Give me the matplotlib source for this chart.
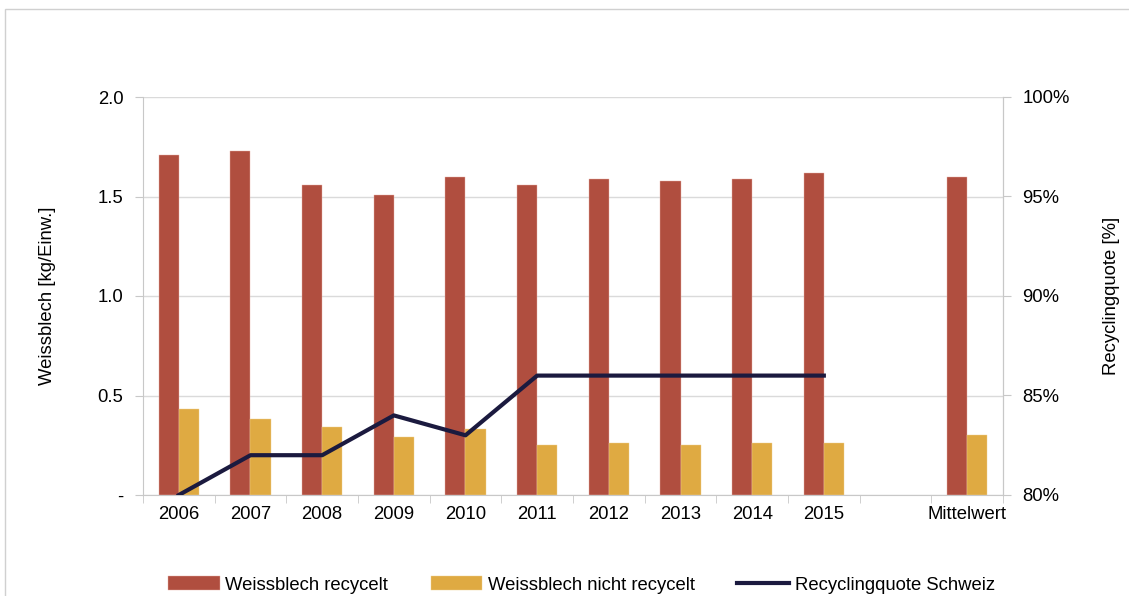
import matplotlib.pyplot as plt
import numpy as np
from matplotlib.patches import Rectangle
from matplotlib.ticker import FuncFormatter

plt.rcParams['font.family'] = ['Liberation Sans', 'DejaVu Sans']

kategorien = ['2006', '2007', '2008', '2009', '2010', '2011', '2012', '2013', '2014', '2015', '', 'Mittelwert']
recycelt = [1.71, 1.73, 1.56, 1.51, 1.60, 1.56, 1.59, 1.58, 1.59, 1.62, np.nan, 1.60]
nicht_recycelt = [0.43, 0.38, 0.34, 0.29, 0.33, 0.25, 0.26, 0.25, 0.26, 0.26, np.nan, 0.30]
quote = [80, 82, 82, 84, 83, 86, 86, 86, 86, 86]

rot = '#B04E3F'
gold = '#DFAA42'
navy = '#1B1A3F'
grau = '#C8C8C8'
fs = 13.3

fig = plt.figure(figsize=(11.29, 5.96), dpi=100)
ax = fig.add_axes([143/1129, 1-495/596, 860/1129, 398/596])

x = np.arange(len(kategorien))
w = 0.28
ax.bar(x - w/2, recycelt, w, color=rot, edgecolor='#E8B0A8', linewidth=0.3, label='Weissblech recycelt', zorder=2)
ax.bar(x + w/2, nicht_recycelt, w, color=gold, edgecolor='#F0D090', linewidth=0.3, label='Weissblech nicht recycelt', zorder=2)

ax.set_xlim(-0.5, len(kategorien) - 0.5)
ax.set_ylim(0, 2.0)
ax.set_yticks([0, 0.5, 1.0, 1.5, 2.0])
ax.yaxis.set_major_formatter(FuncFormatter(lambda v, p: '-' if v == 0 else f'{v:.1f}'))
ax.set_xticks(x)
ax.set_xticklabels(kategorien)
ax.set_xticks(np.arange(-0.5, len(kategorien)), minor=True)
ax.tick_params(axis='x', which='major', length=0, pad=8, labelsize=fs)
ax.tick_params(axis='x', which='minor', length=6, color=grau, direction='out')
ax.tick_params(axis='y', length=6, color=grau, labelsize=fs, pad=8)
ax.grid(axis='y', color='#DADADA', linewidth=1, zorder=0)
ax.set_axisbelow(True)
ax.spines['top'].set_visible(False)
for s in ['left', 'right', 'bottom']:
    ax.spines[s].set_color(grau)
ax.set_ylabel('Weissblech [kg/Einw.]', fontsize=fs, labelpad=30)

ax2 = ax.twinx()
ax2.plot(x[:len(quote)], quote, color=navy, linewidth=3, label='Recyclingquote Schweiz', zorder=3)
ax2.set_ylim(80, 100)
ax2.set_yticks([80, 85, 90, 95, 100])
ax2.yaxis.set_major_formatter(FuncFormatter(lambda v, p: f'{v:.0f}%'))
ax2.tick_params(axis='y', length=6, color=grau, labelsize=fs, pad=8)
for s in ['top', 'left', 'bottom']:
    ax2.spines[s].set_visible(False)
ax2.spines['right'].set_color(grau)
ax2.set_ylabel('Recyclingquote [%]', fontsize=fs, labelpad=24)

h1, l1 = ax.get_legend_handles_labels()
h2, l2 = ax2.get_legend_handles_labels()
fig.legend(h1 + h2, l1 + l2, loc='center', bbox_to_anchor=(0.515, 1-585/596), ncol=3,
           frameon=False, fontsize=fs, handlelength=2.8, handleheight=0.8,
           handletextpad=0.3, columnspacing=2.3)

fig.patches.append(Rectangle((5/1129, -0.1), 1.2, 1 - 9/596 + 0.1, transform=fig.transFigure,
                             fill=False, edgecolor='#D0D0D0', linewidth=1))

fig.savefig('out.png', dpi=100)
